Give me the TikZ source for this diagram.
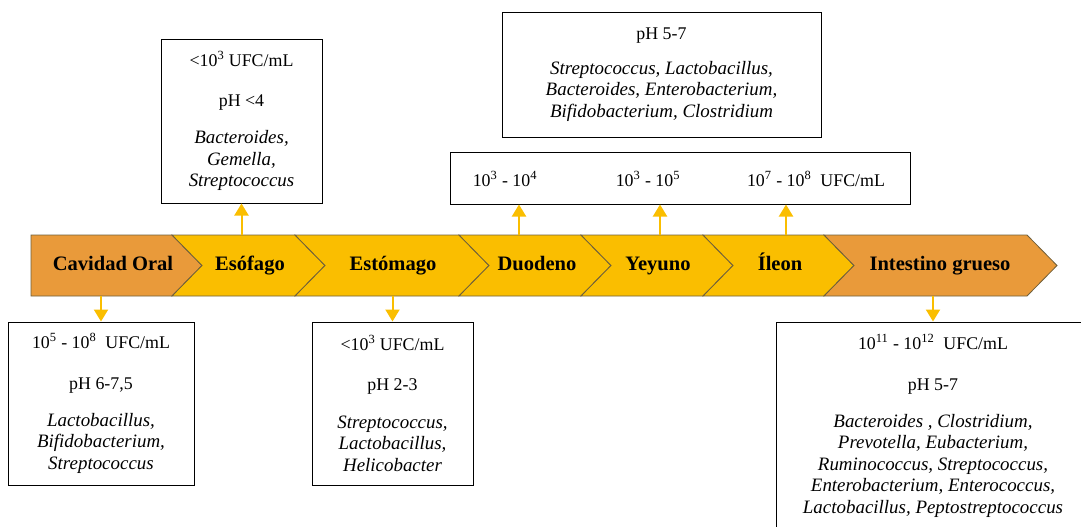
\documentclass[tikz,border=0pt]{standalone}
\usepackage{fontspec}
\setmainfont{Liberation Serif}
\usetikzlibrary{arrows.meta,positioning,calc}
\definecolor{gutgold}{RGB}{250,190,0}
\definecolor{gutorange}{RGB}{233,154,58}
\definecolor{gutedge}{RGB}{110,95,60}
\newcommand{\gen}{\fontsize{14.2}{16.1}\selectfont\itshape}

\begin{document}
\begin{tikzpicture}[
x=0.75pt,y=-0.75pt,
seg/.style={
  draw=gutedge,
  line width=0.6pt
},
stage/.style={
  inner sep=0pt,
  text height=10.5pt,
  text depth=3.5pt,
  minimum height=45.75pt,
  font=\fontsize{15.4}{18}\selectfont\bfseries
},
info/.style={
  draw,
  line width=0.75pt,
  align=center,
  inner sep=0pt,
  font=\fontsize{13.4}{16.1}\selectfont
},
count/.style={
  inner sep=0pt,
  font=\fontsize{13.4}{16.1}\selectfont
},
link/.style={
  draw=gutgold,
  line width=1.5pt,
  -{Triangle[width=10.5pt,length=9pt]}
}
]
\path[use as bounding box] (0,0) rectangle (1081,526);
\clip (0,0) rectangle (1081,526);

% tract
\filldraw[seg,fill=gutorange] (31,235) -- (172,235) -- (202,265.5) -- (172,296) -- (31,296) -- cycle;
\foreach \l/\r/\c in {172/295/gutgold,295/459/gutgold,459/581/gutgold,581/703/gutgold,703/824/gutgold,824/1027/gutorange}
  \filldraw[seg,fill=\c] (\l,235) -- (\r,235) -- (\r+30,265.5) -- (\r,296) -- (\l,296) -- (\l+30,265.5) -- cycle;

\node[stage] (cav) at (113,265.5) {Cavidad Oral};
\node[stage] (esof) at (250,265.5) {Esófago};
\node[stage] (esto) at (393,265.5) {Estómago};
\node[stage] (duo) at (537,265.5) {Duodeno};
\node[stage] (yey) at (658,265.5) {Yeyuno};
\node[stage] (ile) at (780,265.5) {Íleon};
\node[stage] (ig) at (940,265.5) {Intestino grueso};

% upper boxes
\node[info,minimum width=120.75pt,minimum height=123pt] (bEsof) at (241.5,121)
  {<10\textsuperscript{3} UFC/mL\\[14pt] pH <4\\[12pt] \gen Bacteroides,\\ \gen Gemella,\\ \gen Streptococcus};
\node[info,minimum width=239.25pt,minimum height=93.75pt] (bPH) at (661.5,74.5)
  {pH 5-7\\[10pt] \gen Streptococcus, Lactobacillus,\\ \gen Bacteroides, Enterobacterium,\\ \gen Bifidobacterium, Clostridium};
\node[info,minimum width=345pt,minimum height=39pt] (bCnt) at (680,178) {};
\node[count] (cDuo) at (505,179) {10\textsuperscript{3} - 10\textsuperscript{4}};
\node[count] (cYey) at (648,179) {10\textsuperscript{3} - 10\textsuperscript{5}};
\node[count] (cIle) at (816,179) {10\textsuperscript{7} - 10\textsuperscript{8}\ \ UFC/mL};

% lower boxes
\node[info,minimum width=139.5pt,minimum height=122.25pt] (bCav) at (101,403.5)
  {10\textsuperscript{5} - 10\textsuperscript{8}\ \ UFC/mL\\[14pt] pH 6-7,5\\[12pt] \gen Lactobacillus,\\ \gen Bifidobacterium,\\ \gen Streptococcus};
\node[info,minimum width=120.75pt,minimum height=122.25pt] (bEst) at (392.5,403.5)
  {<10\textsuperscript{3} UFC/mL\\[14pt] pH 2-3\\[12pt] \gen Streptococcus,\\ \gen Lactobacillus,\\ \gen Helicobacter};
\node[info,minimum width=235.5pt,minimum height=156pt] (bIG) at (933,426)
  {10\textsuperscript{11} - 10\textsuperscript{12}\ \ UFC/mL\\[14pt] pH 5-7\\[12pt] \gen Bacteroides , Clostridium,\\ \gen Prevotella, Eubacterium,\\ \gen Ruminococcus, Streptococcus,\\ \gen Enterobacterium, Enterococcus,\\ \gen Lactobacillus, Peptostreptococcus};

% arrows
\draw[link] (esof.north -| bEsof.south) -- (bEsof.south);
\draw[link] ([xshift=-13.5pt]duo.north) -- ([xshift=-13.5pt]duo.north |- bCnt.south);
\draw[link] ([xshift=1.5pt]yey.north) -- ([xshift=1.5pt]yey.north |- bCnt.south);
\draw[link] ([xshift=4.5pt]ile.north) -- ([xshift=4.5pt]ile.north |- bCnt.south);
\draw[link] (cav.south -| bCav.north) -- (bCav.north);
\draw[link] (esto.south -| bEst.north) -- (bEst.north);
\draw[link] (ig.south -| bIG.north) -- (bIG.north);
\end{tikzpicture}
\end{document}
